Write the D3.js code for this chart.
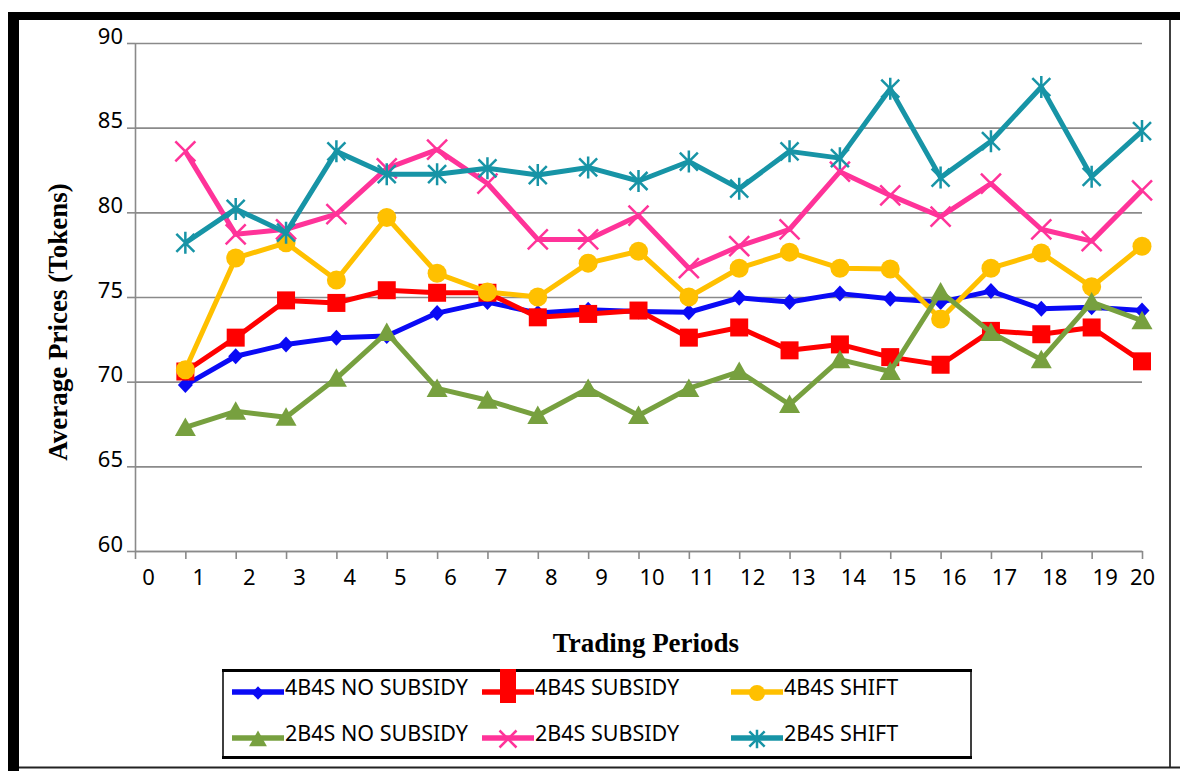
<!DOCTYPE html>
<html>
<head>
<meta charset="utf-8">
<script src="https://cdn.jsdelivr.net/npm/d3@7"></script>
<style>
  html, body { margin: 0; padding: 0; background: #fff; }
  svg { display: block; }
</style>
</head>
<body>
<svg id="chart" width="1180" height="771"></svg>
<script>
// data
const periods = [1, 2, 3, 4, 5, 6, 7, 8, 9, 10, 11, 12, 13, 14, 15, 16, 17, 18, 19, 20];
const xTicks = [0, 1, 2, 3, 4, 5, 6, 7, 8, 9, 10, 11, 12, 13, 14, 15, 16, 17, 18, 19, 20];
const yTicks = [60, 65, 70, 75, 80, 85, 90];

const noSubsidy4 = [69.8, 71.5, 72.2, 72.6, 72.7, 74.05, 74.7, 74.05, 74.25, 74.15, 74.1, 74.95, 74.7, 75.2, 74.9, 74.7, 75.35, 74.3, 74.4, 74.2];
const subsidy4   = [70.6, 72.6, 74.8, 74.65, 75.4, 75.25, 75.25, 73.8, 74.0, 74.2, 72.6, 73.2, 71.85, 72.2, 71.45, 71.0, 73.0, 72.8, 73.2, 71.2];
const shift4     = [70.7, 77.3, 78.2, 76.0, 79.7, 76.4, 75.3, 75.0, 77.0, 77.7, 75.0, 76.7, 77.65, 76.7, 76.65, 73.7, 76.7, 77.6, 75.6, 78.0];
const noSubsidy2 = [67.3, 68.25, 67.9, 70.2, 72.9, 69.6, 68.9, 68.0, 69.6, 68.0, 69.6, 70.6, 68.65, 71.3, 70.6, 75.3, 72.9, 71.3, 74.7, 73.6];
const subsidy2   = [83.6, 78.7, 79.0, 79.9, 82.6, 83.7, 81.7, 78.4, 78.4, 79.8, 76.7, 78.0, 79.0, 82.4, 81.0, 79.75, 81.7, 79.0, 78.3, 81.3];
const shift2     = [78.2, 80.2, 78.8, 83.6, 82.25, 82.25, 82.6, 82.2, 82.65, 81.85, 83.0, 81.4, 83.6, 83.2, 87.3, 82.05, 84.2, 87.4, 82.1, 84.8];

const seriesNames = ["4B4S NO SUBSIDY", "4B4S SUBSIDY", "4B4S SHIFT", "2B4S NO SUBSIDY", "2B4S SUBSIDY", "2B4S SHIFT"];
const seriesValues = [noSubsidy4, subsidy4, shift4, noSubsidy2, subsidy2, shift2];

const series = seriesNames.map((name, i) => ({
    name: name,
    values: seriesValues[i].map((v, j) => ({ period: periods[j], value: v }))
}));

// look of each series
const styles = {
    "4B4S NO SUBSIDY": { color: "#0a0af5", marker: "diamond" },
    "4B4S SUBSIDY":    { color: "#ff0000", marker: "square" },
    "4B4S SHIFT":      { color: "#ffc000", marker: "circle" },
    "2B4S NO SUBSIDY": { color: "#77a03f", marker: "triangle" },
    "2B4S SUBSIDY":    { color: "#ff3399", marker: "cross" },
    "2B4S SHIFT":      { color: "#1794a6", marker: "star" }
};

const svg = d3.select("#chart");
const plot = { left: 135, right: 1142, top: 43, bottom: 551 };

const x = d3.scaleLinear().domain([0, 20]).range([plot.left, plot.right]);
const y = d3.scaleLinear().domain([60, 90]).range([plot.bottom, plot.top]);

/* outer frame of the figure */
svg.append("rect").attr("x", 8).attr("y", 12).attr("width", 1172).attr("height", 8).attr("fill", "#000");
svg.append("rect").attr("x", 8).attr("y", 12).attr("width", 11).attr("height", 759).attr("fill", "#000");
svg.append("line").attr("x1", 1170).attr("x2", 1170).attr("y1", 20).attr("y2", 768)
    .attr("stroke", "#000").attr("stroke-width", 1.5);
svg.append("line").attr("x1", 19).attr("x2", 1180).attr("y1", 767.5).attr("y2", 767.5)
    .attr("stroke", "#222").attr("stroke-width", 2);

/* gridlines */
svg.append("g")
    .attr("transform", `translate(${plot.left},0)`)
    .call(d3.axisLeft(y).tickValues(yTicks).tickSize(-(plot.right - plot.left)).tickFormat(""))
    .call(g => g.select(".domain").remove())
    .call(g => g.selectAll("line").attr("stroke", "#8a8a8a").attr("stroke-width", 1.6));

/* y axis */
svg.append("g")
    .attr("transform", `translate(${plot.left},0)`)
    .call(d3.axisLeft(y).tickValues(yTicks).tickSize(8).tickSizeOuter(0).tickPadding(4))
    .call(g => g.select(".domain").attr("stroke", "#8a8a8a").attr("stroke-width", 1.6))
    .call(g => g.selectAll("line").attr("stroke", "#8a8a8a").attr("stroke-width", 1.6))
    .call(g => g.selectAll("text")
        .attr("dy", "0")
        .attr("fill", "#000")
        .style("font-family", "'Noto Sans', 'Open Sans', sans-serif")
        .style("font-size", "22px"));

/* x axis */
svg.append("g")
    .attr("transform", `translate(0,${plot.bottom})`)
    .call(d3.axisBottom(x).tickValues(xTicks).tickSize(8).tickSizeOuter(0).tickPadding(10))
    .call(g => g.select(".domain").attr("stroke", "#8a8a8a").attr("stroke-width", 1.6))
    .call(g => g.selectAll("line").attr("stroke", "#8a8a8a").attr("stroke-width", 1.6))
    .call(g => g.selectAll("text")
        .attr("x", d => d === 20 ? 0 : 13)
        .attr("fill", "#000")
        .style("font-family", "'Noto Sans', 'Open Sans', sans-serif")
        .style("font-size", "22px"));

/* axis titles */
svg.append("text")
    .attr("transform", "translate(67,322) rotate(-90)")
    .attr("text-anchor", "middle")
    .style("font-family", "'Liberation Serif', 'Times New Roman', serif")
    .style("font-weight", "bold")
    .style("font-size", "27px")
    .text("Average Prices (Tokens)");

svg.append("text")
    .attr("x", 646)
    .attr("y", 652)
    .attr("text-anchor", "middle")
    .style("font-family", "'Liberation Serif', 'Times New Roman', serif")
    .style("font-weight", "bold")
    .style("font-size", "27px")
    .text("Trading Periods");

// marker drawing, centred on 0,0
function drawMarker(sel, type, color, s) {
    if (type === "diamond") {
        sel.append("path").attr("d", `M0,${-8 * s}L${7.5 * s},0L0,${8 * s}L${-7.5 * s},0Z`).attr("fill", color);
    } else if (type === "square") {
        sel.append("rect").attr("x", -9 * s).attr("y", -9 * s).attr("width", 18 * s).attr("height", 18 * s).attr("fill", color);
    } else if (type === "circle") {
        sel.append("circle").attr("r", 9.5 * s).attr("fill", color);
    } else if (type === "triangle") {
        sel.append("path").attr("d", `M0,${-10 * s}L${10.5 * s},${8.5 * s}L${-10.5 * s},${8.5 * s}Z`).attr("fill", color);
    } else if (type === "cross") {
        sel.append("path").attr("d", `M${-10 * s},${-10 * s}L${10 * s},${10 * s}M${10 * s},${-10 * s}L${-10 * s},${10 * s}`)
            .attr("stroke", color).attr("stroke-width", 2.5).attr("fill", "none");
    } else if (type === "star") {
        sel.append("path").attr("d", `M${-9 * s},${-9 * s}L${9 * s},${9 * s}M${9 * s},${-9 * s}L${-9 * s},${9 * s}M0,${-11 * s}L0,${11 * s}`)
            .attr("stroke", color).attr("stroke-width", 2.5).attr("fill", "none");
    }
}

/* lines + markers */
const line = d3.line()
    .x(d => x(d.period))
    .y(d => y(d.value));

const seriesGroup = svg.selectAll("g.series")
    .data(series)
    .enter()
    .append("g")
    .attr("class", "series");

seriesGroup.append("path")
    .attr("d", d => line(d.values))
    .attr("fill", "none")
    .attr("stroke", d => styles[d.name].color)
    .attr("stroke-width", 5)
    .attr("stroke-linejoin", "round");

seriesGroup.each(function(d) {
    const st = styles[d.name];
    d3.select(this).selectAll("g.marker")
        .data(d.values)
        .enter()
        .append("g")
        .attr("class", "marker")
        .attr("transform", p => `translate(${x(p.period)},${y(p.value)})`)
        .each(function() { drawMarker(d3.select(this), st.marker, st.color, 1); });
});

/* legend */
const legend = svg.append("g").attr("class", "legend");
legend.append("rect")
    .attr("x", 223).attr("y", 670).attr("width", 748).attr("height", 88)
    .attr("fill", "#fff").attr("stroke", "#000").attr("stroke-width", 1.5);
legend.append("line").attr("x1", 222).attr("x2", 972).attr("y1", 670.5).attr("y2", 670.5).attr("stroke", "#000").attr("stroke-width", 3);
legend.append("line").attr("x1", 222).attr("x2", 972).attr("y1", 757.5).attr("y2", 757.5).attr("stroke", "#000").attr("stroke-width", 3);

const legendCols = [232, 482, 731];
const legendRows = [692, 738];

const legendItem = legend.selectAll("g.legend-item")
    .data(seriesNames)
    .enter()
    .append("g")
    .attr("class", "legend-item")
    .attr("transform", (d, i) => `translate(${legendCols[i % 3]},${legendRows[Math.floor(i / 3)]})`);

legendItem.append("line")
    .attr("x1", 0).attr("x2", 52)
    .attr("stroke", d => styles[d].color)
    .attr("stroke-width", 5.5);

legendItem.each(function(d) {
    const st = styles[d];
    const m = d3.select(this).append("g").attr("transform", "translate(26,1)");
    if (st.marker === "square") {
        // the subsidy swatch is stretched upward in the source figure
        m.append("rect").attr("x", -8).attr("y", -24).attr("width", 16).attr("height", 34).attr("fill", st.color);
    } else {
        drawMarker(m, st.marker, st.color, 0.85);
    }
});

legendItem.append("text")
    .attr("x", 53)
    .attr("y", -5)
    .attr("dy", "0.35em")
    .style("font-family", "'Noto Sans', 'Open Sans', sans-serif")
    .style("font-size", "21.5px")
    .text(d => d);
</script>
</body>
</html>
